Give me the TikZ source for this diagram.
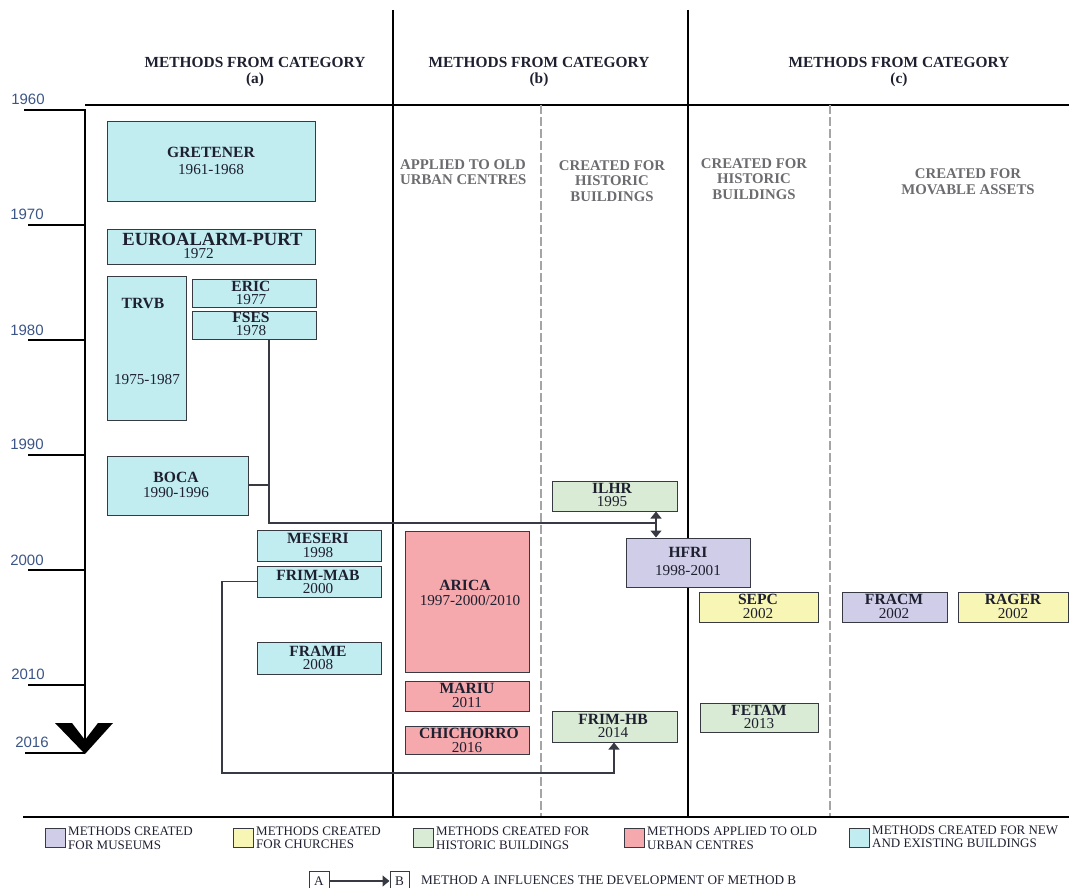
\documentclass[tikz,border=0pt]{standalone}
\usepackage{fontspec}
\setmainfont{Liberation Serif}
\newfontfamily\axisfont{Liberation Sans}
\usetikzlibrary{arrows.meta,fit}

\definecolor{ink}{RGB}{30,32,48}
\definecolor{edge}{RGB}{55,58,66}
\definecolor{subgray}{RGB}{108,108,112}
\definecolor{axisblue}{RGB}{60,85,135}
\definecolor{dashgray}{RGB}{165,165,165}
\definecolor{fillnew}{RGB}{194,237,240}
\definecolor{fillold}{RGB}{245,169,173}
\definecolor{fillhist}{RGB}{217,235,212}
\definecolor{fillmus}{RGB}{207,205,232}
\definecolor{fillchurch}{RGB}{248,246,180}

\tikzset{
  mbox/.style={draw=edge, line width=1pt, inner sep=0pt, rectangle},
  newb/.style={mbox, fill=fillnew},
  oldb/.style={mbox, fill=fillold},
  histb/.style={mbox, fill=fillhist},
  musb/.style={mbox, fill=fillmus},
  chb/.style={mbox, fill=fillchurch},
  ttl/.style={font=\bfseries\fontsize{15.6}{15.6}\selectfont, text=ink, inner sep=0pt},
  yr/.style={font=\fontsize{15.2}{15.2}\selectfont, text=ink, inner sep=0pt},
  head/.style={font=\bfseries\fontsize{15.4}{16}\selectfont, text=ink, inner sep=0pt},
  subhead/.style={font=\bfseries\fontsize{14.8}{15}\selectfont, text=subgray, inner sep=0pt},
  yearlbl/.style={font=\axisfont\fontsize{15}{15}\selectfont, text=axisblue, inner sep=0pt},
  legtxt/.style={font=\fontsize{13}{13}\selectfont, text=ink, inner sep=0pt, anchor=west},
  keytxt/.style={font=\fontsize{13.2}{13.2}\selectfont, text=ink, inner sep=0pt},
  conn/.style={draw=edge, line width=1.3pt},
  infl/.style={conn, -{Triangle[width=11pt,length=7pt]}},
  divider/.style={draw=black, line width=2.4pt},
  subdiv/.style={draw=dashgray, line width=1.4pt, dash pattern=on 9pt off 3pt},
}

\begin{document}
\begin{tikzpicture}[x=1pt,y=-1pt]
\useasboundingbox (0,0) rectangle (1069,888);

% column frame
\draw[line width=2pt] (85,105) -- (1069,105);
\draw[divider] (393,10) -- (393,817);
\draw[divider] (688,10) -- (688,817);
\draw[subdiv] (541,105) -- (541,817);
\draw[subdiv] (830,105) -- (830,817);
\draw[line width=1.3pt] (23,817) -- (1069,817);

% time axis
\draw[line width=1.5pt] (24,110) -- (85,110) -- (85,742);
\foreach \yy in {225,340,455,570,685}
  \draw[line width=1.5pt] (28,\yy) -- (85,\yy);
\draw[line width=1.5pt] (25,753) -- (85,753);
\fill[black] (55,723) -- (72,723) -- (85,740) -- (98,723) -- (113,723) -- (85,754) -- cycle;
\node[yearlbl] (y1960) at (28,99) {1960};
\node[yearlbl] (y1970) at (27,214) {1970};
\node[yearlbl] (y1980) at (27,330) {1980};
\node[yearlbl] (y1990) at (27,444) {1990};
\node[yearlbl] (y2000) at (27,560) {2000};
\node[yearlbl] (y2010) at (28,674) {2010};
\node[yearlbl] (y2016) at (32,742) {2016};

% column headings
\node[head] (ha1) at (255,62) {METHODS FROM CATEGORY};
\node[head] (ha2) at (255,80) {(a)};
\node[head] (hb1) at (539,62) {METHODS FROM CATEGORY};
\node[head] (hb2) at (539,80) {(b)};
\node[head] (hc1) at (899,62) {METHODS FROM CATEGORY};
\node[head] (hc2) at (899,80) {(c)};

\node[subhead, anchor=west] (sa1) at (400,165) {APPLIED TO OLD};
\node[subhead, anchor=west] (sa2) at (400,180) {URBAN CENTRES};
\node[subhead] (sb1) at (612,165.3) {CREATED FOR};
\node[subhead] (sb2) at (612,180.5) {HISTORIC};
\node[subhead] (sb3) at (612,196.7) {BUILDINGS};
\node[subhead] (sc1) at (754,163.3) {CREATED FOR};
\node[subhead] (sc2) at (754,178.8) {HISTORIC};
\node[subhead] (sc3) at (754,195) {BUILDINGS};
\node[subhead] (sd1) at (968,173.8) {CREATED FOR};
\node[subhead] (sd2) at (968,190) {MOVABLE ASSETS};

% methods, category (a)
\node[newb, fit={(107,122) (315,202)}] (gretener) {};
\node[ttl] (gretener-t) at (211,152.5) {GRETENER};
\node[yr] (gretener-y) at (211,170) {1961-1968};

\node[newb, fit={(107,229) (315,264)}] (euro) {};
\node[ttl, font=\bfseries\fontsize{18.6}{18.6}\selectfont] (euro-t) at (212.5,239) {EUROALARM-PURT};
\node[yr] (euro-y) at (198.5,254) {1972};

\node[newb, fit={(107,276) (186,420)}] (trvb) {};
\node[ttl] (trvb-t) at (143,304) {TRVB};
\node[yr] (trvb-y) at (147,380) {1975-1987};

\node[newb, fit={(192,279) (316,307)}] (eric) {};
\node[ttl] (eric-t) at (251,286) {ERIC};
\node[yr] (eric-y) at (251,299.5) {1977};

\node[newb, fit={(192,311) (316,339)}] (fses) {};
\node[ttl] (fses-t) at (251,317.5) {FSES};
\node[yr] (fses-y) at (251,331) {1978};

\node[newb, fit={(107,456) (248,515)}] (boca) {};
\node[ttl] (boca-t) at (176,477) {BOCA};
\node[yr] (boca-y) at (176,493) {1990-1996};

\node[newb, fit={(257,530) (381,561)}] (meseri) {};
\node[ttl] (meseri-t) at (318,538) {MESERI};
\node[yr] (meseri-y) at (318,553) {1998};

\node[newb, fit={(257,566) (381,597)}] (frimmab) {};
\node[ttl] (frimmab-t) at (318,575) {FRIM-MAB};
\node[yr] (frimmab-y) at (318,589) {2000};

\node[newb, fit={(257,642) (381,674)}] (frame) {};
\node[ttl] (frame-t) at (318,651) {FRAME};
\node[yr] (frame-y) at (318,665) {2008};

% methods, category (b)
\node[oldb, fit={(405,531) (529,672)}] (arica) {};
\node[ttl] (arica-t) at (465,585) {ARICA};
\node[yr] (arica-y) at (470,600.5) {1997-2000/2010};

\node[oldb, fit={(405,681) (529,711)}] (mariu) {};
\node[ttl] (mariu-t) at (467,688.5) {MARIU};
\node[yr] (mariu-y) at (467,703) {2011};

\node[oldb, fit={(405,726) (529,754)}] (chichorro) {};
\node[ttl] (chichorro-t) at (469,733.5) {CHICHORRO};
\node[yr] (chichorro-y) at (467,747.5) {2016};

\node[histb, fit={(552,481) (677,511)}] (ilhr) {};
\node[ttl] (ilhr-t) at (612,488) {ILHR};
\node[yr] (ilhr-y) at (612,502) {1995};

\node[histb, fit={(552,711) (677,742)}] (frimhb) {};
\node[ttl] (frimhb-t) at (613,719.5) {FRIM-HB};
\node[yr] (frimhb-y) at (613,733) {2014};

\node[musb, fit={(626,538) (750,587)}] (hfri) {};
\node[ttl] (hfri-t) at (688,552) {HFRI};
\node[yr] (hfri-y) at (688,571) {1998-2001};

% methods, category (c)
\node[chb, fit={(699,592) (818,622)}] (sepc) {};
\node[ttl] (sepc-t) at (758,599.5) {SEPC};
\node[yr] (sepc-y) at (758,613.5) {2002};

\node[histb, fit={(700,703) (818,732)}] (fetam) {};
\node[ttl] (fetam-t) at (759,710) {FETAM};
\node[yr] (fetam-y) at (759,724) {2013};

\node[musb, fit={(842,592) (947,622)}] (fracm) {};
\node[ttl] (fracm-t) at (894,599.5) {FRACM};
\node[yr] (fracm-y) at (894,613.5) {2002};

\node[chb, fit={(958,592) (1068.5,622)}] (rager) {};
\node[ttl] (rager-t) at (1013,599.5) {RAGER};
\node[yr] (rager-y) at (1013,613.5) {2002};

% influences
\coordinate (bend1) at (269,523);
\coordinate (hub) at (656,523);
\coordinate (bocajoin) at (269,485);
\draw[conn] (fses.south -| bend1) -- (bend1) -- (hub);
\draw[conn] (boca.east |- bocajoin) -- (bocajoin);
\draw[infl] (hub) -- (ilhr.south -| hub);
\draw[infl] (hub) -- (hfri.north -| hub);

\coordinate (bend2) at (222,773);
\coordinate (bend3) at (614,773);
\draw[infl] (frimmab.west) -- (frimmab.west -| bend2) -- (bend2) -- (bend3) -- (frimhb.south -| bend3);

% legend
\node[musb, fit={(45,828) (65,847)}] (lg-mus) {};
\node[legtxt] (lg-mus-1) at (68,831.5) {METHODS CREATED};
\node[legtxt] (lg-mus-2) at (68,845) {FOR MUSEUMS};
\node[chb, fit={(233,828) (253,847)}] (lg-ch) {};
\node[legtxt] (lg-ch-1) at (256,831) {METHODS CREATED};
\node[legtxt] (lg-ch-2) at (256,844.5) {FOR CHURCHES};
\node[histb, fit={(413,828) (433,847)}] (lg-hist) {};
\node[legtxt] (lg-hist-1) at (436,831) {METHODS CREATED FOR};
\node[legtxt] (lg-hist-2) at (436,845) {HISTORIC BUILDINGS};
\node[oldb, fit={(624,828) (644,847)}] (lg-old) {};
\node[legtxt] (lg-old-1) at (647,831) {METHODS APPLIED TO OLD};
\node[legtxt] (lg-old-2) at (647,845) {URBAN CENTRES};
\node[newb, fit={(849,828) (869,847)}] (lg-new) {};
\node[legtxt] (lg-new-1) at (872,830) {METHODS CREATED FOR NEW};
\node[legtxt] (lg-new-2) at (872,843) {AND EXISTING BUILDINGS};

\node[mbox, fill=white, fit={(309,871) (329,894)}] (keya) {};
\node[keytxt] (keya-t) at (319,881) {A};
\node[mbox, fill=white, fit={(390,871) (409,894)}] (keyb) {};
\node[keytxt] (keyb-t) at (399.5,881) {B};
\coordinate (keyrow) at (0,881);
\draw[infl] (keya.east |- keyrow) -- (keyb.west |- keyrow);
\node[keytxt, anchor=west] (key-t) at (421,880) {METHOD A INFLUENCES THE DEVELOPMENT OF METHOD B};
\end{tikzpicture}
\end{document}
